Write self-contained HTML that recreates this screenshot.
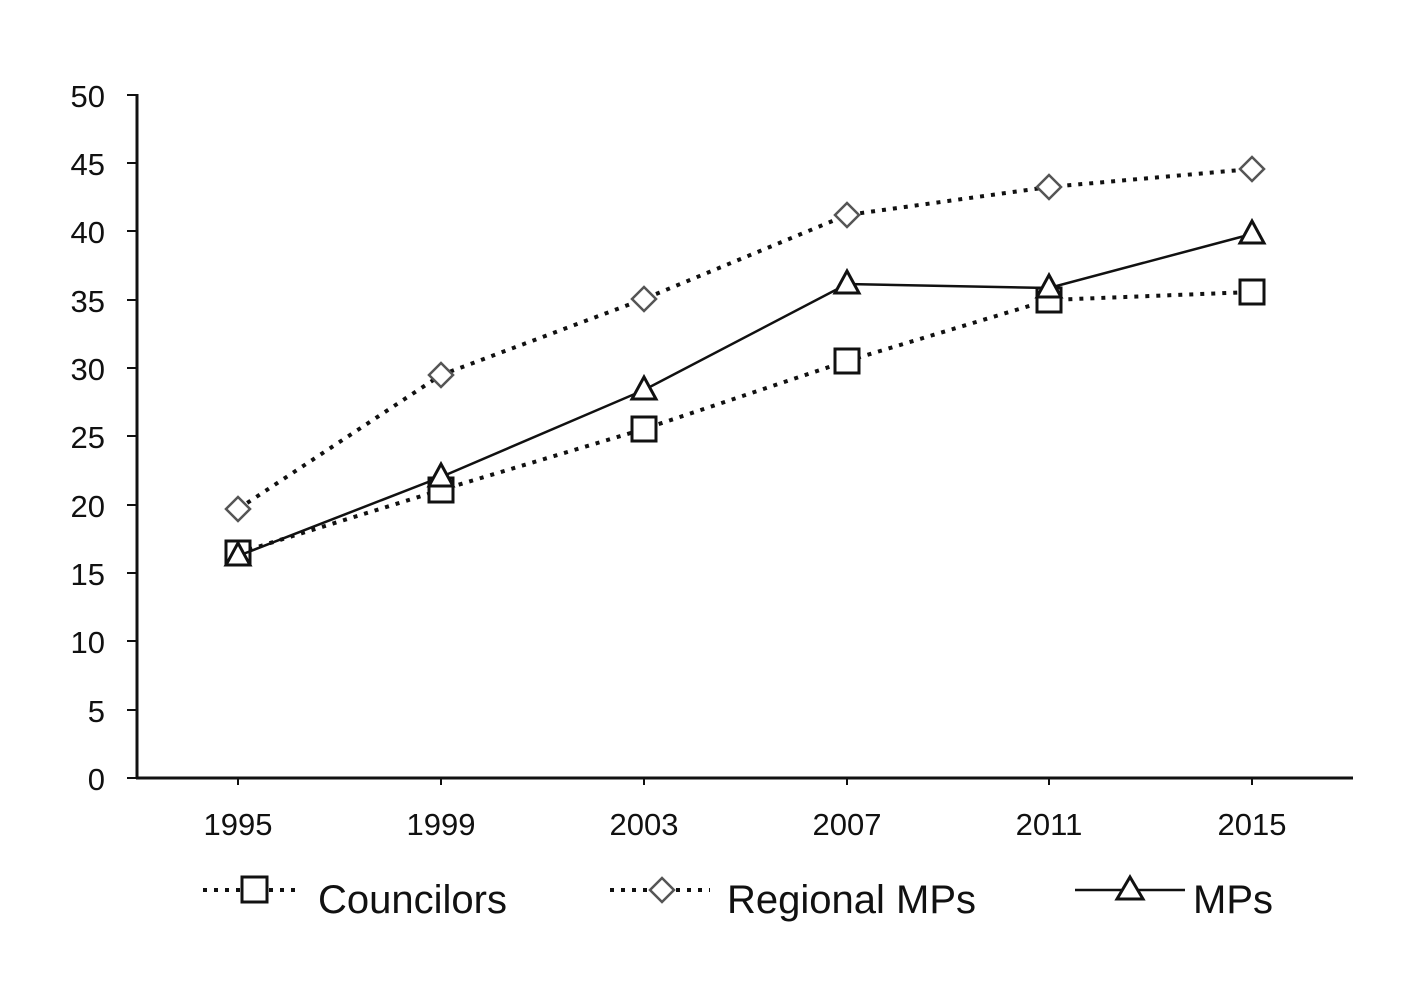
<!DOCTYPE html>
<html><head><meta charset="utf-8"><style>body{margin:0;background:#fff}svg{display:block}text{font-family:"Liberation Sans",sans-serif;fill:#111}</style></head><body>
<svg width="1414" height="992" viewBox="0 0 1414 992" xmlns="http://www.w3.org/2000/svg">
<g stroke="#111" stroke-width="3" fill="none">
<line x1="137" y1="94" x2="137" y2="779"/>
<line x1="136" y1="778" x2="1353" y2="778"/>
</g>
<g stroke="#111" stroke-width="2">
<line x1="127" y1="778" x2="137" y2="778"/><line x1="127" y1="710" x2="137" y2="710"/><line x1="127" y1="641" x2="137" y2="641"/><line x1="127" y1="573" x2="137" y2="573"/><line x1="127" y1="505" x2="137" y2="505"/><line x1="127" y1="436" x2="137" y2="436"/><line x1="127" y1="368" x2="137" y2="368"/><line x1="127" y1="300" x2="137" y2="300"/><line x1="127" y1="231" x2="137" y2="231"/><line x1="127" y1="163" x2="137" y2="163"/><line x1="127" y1="95" x2="137" y2="95"/>
<line x1="238" y1="778" x2="238" y2="785"/><line x1="441" y1="778" x2="441" y2="785"/><line x1="644" y1="778" x2="644" y2="785"/><line x1="847" y1="778" x2="847" y2="785"/><line x1="1049" y1="778" x2="1049" y2="785"/><line x1="1252" y1="778" x2="1252" y2="785"/>
</g>
<g font-size="31" text-anchor="end" textLength="">
<text x="105" y="790">0</text><text x="105" y="722">5</text><text x="105" y="653">10</text><text x="105" y="585">15</text><text x="105" y="517">20</text><text x="105" y="448">25</text><text x="105" y="380">30</text><text x="105" y="312">35</text><text x="105" y="243">40</text><text x="105" y="175">45</text><text x="105" y="107">50</text>
</g>
<g font-size="31" text-anchor="middle">
<text x="238" y="835">1995</text><text x="441" y="835">1999</text><text x="644" y="835">2003</text><text x="847" y="835">2007</text><text x="1049" y="835">2011</text><text x="1252" y="835">2015</text>
</g>
<polyline points="238,509 441,375 644,299 847,215 1049,187 1252,169" fill="none" stroke="#111" stroke-width="4" stroke-dasharray="4,7"/>
<g fill="#fff" stroke="#555" stroke-width="2.5">
<path d="M238,497 l12,12 l-12,12 l-12,-12z"/><path d="M441,363 l12,12 l-12,12 l-12,-12z"/><path d="M644,287 l12,12 l-12,12 l-12,-12z"/><path d="M847,203 l12,12 l-12,12 l-12,-12z"/><path d="M1049,175 l12,12 l-12,12 l-12,-12z"/><path d="M1252,157 l12,12 l-12,12 l-12,-12z"/>
</g>
<polyline points="238,553 441,490 644,429 847,361 1049,300 1252,292" fill="none" stroke="#111" stroke-width="4" stroke-dasharray="4,7"/>
<g fill="#fff" stroke="#111" stroke-width="3">
<rect x="226" y="541" width="24" height="24"/><rect x="429" y="478" width="24" height="24"/><rect x="632" y="417" width="24" height="24"/><rect x="835" y="349" width="24" height="24"/><rect x="1037" y="288" width="24" height="24"/><rect x="1240" y="280" width="24" height="24"/>
</g>
<polyline points="238,556 441,477 644,390 847,284 1049,288 1252,234" fill="none" stroke="#111" stroke-width="2.5"/>
<g fill="#fff" stroke="#111" stroke-width="3">
<path d="M238,543 l12,22 h-24z"/><path d="M441,464 l12,22 h-24z"/><path d="M644,377 l12,22 h-24z"/><path d="M847,271 l12,22 h-24z"/><path d="M1049,275 l12,22 h-24z"/><path d="M1252,221 l12,22 h-24z"/>
</g>
<line x1="203" y1="890" x2="302" y2="890" stroke="#111" stroke-width="4" stroke-dasharray="4,7"/>
<rect x="242" y="877" width="25" height="25" fill="#fff" stroke="#111" stroke-width="3"/>
<text x="318" y="913" font-size="40">Councilors</text>
<line x1="610" y1="890" x2="710" y2="890" stroke="#111" stroke-width="4" stroke-dasharray="4,7"/>
<path d="M662,878 l12,12 l-12,12 l-12,-12z" fill="#fff" stroke="#555" stroke-width="2.5"/>
<text x="727" y="913" font-size="40">Regional MPs</text>
<line x1="1075" y1="890" x2="1185" y2="890" stroke="#111" stroke-width="2.5"/>
<path d="M1130,877 l13,22 h-26z" fill="#fff" stroke="#111" stroke-width="3"/>
<text x="1193" y="913" font-size="40">MPs</text>
</svg>
</body></html>
